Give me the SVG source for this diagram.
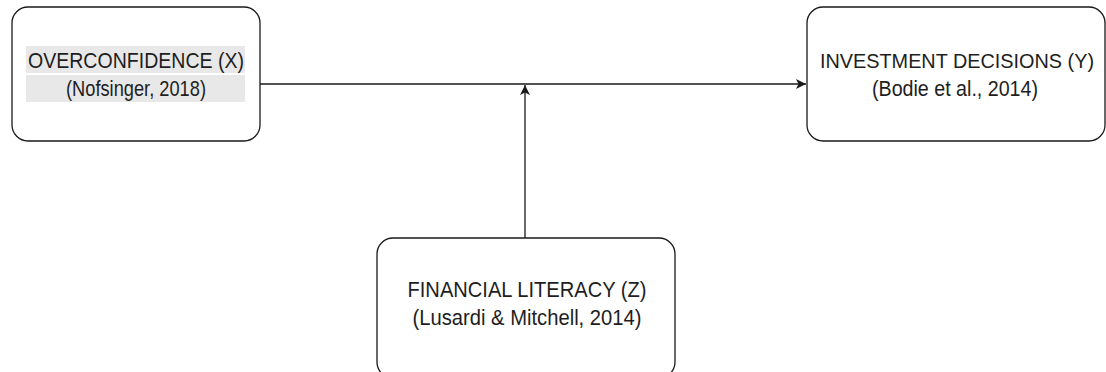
<svg xmlns="http://www.w3.org/2000/svg" width="1106" height="372" viewBox="0 0 1106 372">
<style>
.box{fill:#fff;stroke:#1a1a1a;stroke-width:1.3}
.t{font-family:"Liberation Sans",Arial,sans-serif;font-size:21.5px;fill:#1e1e1e;text-anchor:middle}
.hl{fill:#e8e8e8}
.ln{fill:none;stroke:#1a1a1a;stroke-width:1.3}
</style>
<defs>
<marker id="arr" viewBox="0 0 10 10" refX="10" refY="5" markerWidth="10" markerHeight="10" markerUnits="userSpaceOnUse" orient="auto">
<path d="M0,0 L10,5 L0,10 L2.5,5 Z" fill="#1a1a1a"/>
</marker>
</defs>
<rect width="1106" height="372" fill="#fff"/>
<g id="connectors">
<path class="ln" d="M260,84 L806,84" marker-end="url(#arr)"/>
<path class="ln" d="M525,238 L525,85" marker-end="url(#arr)"/>
</g>
<g id="nodeX">
<rect class="box" x="12" y="7" width="248" height="134" rx="16"/>
<rect class="hl" x="26" y="46" width="219" height="27"/>
<rect class="hl" x="26" y="75" width="219" height="27"/>
<text class="t" x="136" y="68" textLength="216" lengthAdjust="spacingAndGlyphs">OVERCONFIDENCE (X)</text>
<text class="t" x="136" y="96" textLength="140" lengthAdjust="spacingAndGlyphs">(Nofsinger, 2018)</text>
</g>
<g id="nodeY">
<rect class="box" x="807" y="7" width="298" height="134" rx="16"/>
<text class="t" x="957" y="68" textLength="274" lengthAdjust="spacingAndGlyphs" style="font-size:20.5px">INVESTMENT DECISIONS (Y)</text>
<text class="t" x="955" y="96" textLength="166" lengthAdjust="spacingAndGlyphs">(Bodie et al., 2014)</text>
</g>
<g id="nodeZ">
<rect class="box" x="377" y="238" width="298" height="140" rx="16"/>
<text class="t" x="527" y="297" textLength="239" lengthAdjust="spacingAndGlyphs">FINANCIAL LITERACY (Z)</text>
<text class="t" x="527" y="325" textLength="229" lengthAdjust="spacingAndGlyphs">(Lusardi &amp; Mitchell, 2014)</text>
</g>
</svg>
